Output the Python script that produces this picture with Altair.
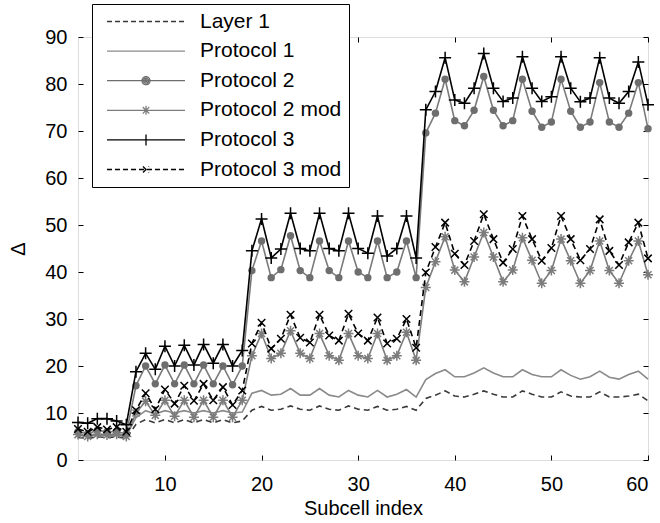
import altair as alt
import pandas as pd

x_index = list(range(1, 61))
series_names = ["Layer 1", "Protocol 1", "Protocol 2", "Protocol 2 mod", "Protocol 3", "Protocol 3 mod"]

layer1 = [4.8, 4.6, 4.9, 4.8, 4.9, 4.6,
          7.6, 8.6, 7.9, 8.6, 7.9, 8.6, 7.9, 8.6, 7.9, 8.6, 7.9, 8.3,
          10.6, 11.4, 10.6, 10.8, 11.5, 10.8, 10.6, 11.5, 10.8, 10.6, 11.5, 10.8, 10.6, 11.4, 10.6, 10.8, 11.4, 10.6,
          13.1, 13.8, 14.7, 13.6, 13.4, 14.0, 14.7, 14.0, 13.4, 13.4, 14.7, 14.0, 13.4, 13.4, 14.5, 13.6,
          13.4, 13.4, 14.5, 13.4, 13.4, 13.6, 14.0, 12.6]
protocol1 = [5.2, 5.2, 5.3, 5.2, 5.3, 5.2,
             9.0, 10.5, 9.8, 10.5, 10.0, 10.5, 10.0, 10.5, 10.0, 10.5, 10.0, 10.2,
             14.2, 14.8, 13.8, 14.0, 15.2, 13.8, 13.8, 15.2, 13.8, 13.4, 14.8, 13.8, 13.4, 14.8, 13.4, 14.0, 15.0, 13.4,
             17.1, 18.4, 19.2, 17.7, 17.7, 18.5, 19.6, 18.5, 17.7, 17.7, 19.2, 18.2, 17.7, 17.7, 19.2, 18.0,
             17.2, 17.7, 18.9, 17.6, 17.2, 18.2, 18.9, 17.2]
protocol2 = [6.0, 5.6, 6.3, 6.0, 6.0, 5.6,
             15.8, 20.0, 16.2, 20.2, 16.2, 20.2, 16.2, 20.2, 16.2, 20.0, 16.0, 20.0,
             40.3, 46.6, 38.8, 40.5, 47.7, 40.3, 38.8, 46.6, 40.3, 38.8, 46.6, 40.0, 38.8, 46.6, 38.8, 40.0, 46.6, 38.8,
             69.6, 73.8, 81.0, 72.2, 71.1, 74.4, 81.6, 74.4, 71.1, 72.2, 81.0, 74.2, 70.8, 71.9, 81.0, 74.2,
             70.8, 71.9, 80.3, 71.9, 70.8, 73.8, 80.3, 70.5]
protocol2_mod = [5.4, 5.0, 5.5, 5.3, 5.5, 5.0,
                 10.0, 12.5, 9.5, 12.7, 9.3, 12.7, 9.1, 12.7, 9.1, 12.7, 9.1, 12.7,
                 22.2, 26.9, 21.6, 22.7, 27.5, 22.7, 21.6, 26.9, 22.2, 21.2, 26.9, 22.2, 21.6, 26.9, 21.2, 22.2, 27.2, 21.2,
                 36.7, 42.2, 47.5, 40.4, 37.9, 43.2, 48.4, 43.2, 37.9, 40.4, 47.3, 42.5, 37.6, 40.3, 47.0, 42.4,
                 37.6, 40.3, 46.6, 40.3, 37.6, 42.4, 46.6, 39.4]
protocol3 = [8.0, 7.8, 8.8, 8.8, 8.3, 7.5,
             18.8, 22.7, 19.3, 24.2, 20.0, 24.4, 20.2, 24.6, 20.6, 24.6, 20.0, 23.3,
             44.5, 51.3, 43.0, 44.9, 52.5, 45.0, 44.5, 52.5, 45.0, 44.5, 52.5, 45.0, 44.0, 51.9, 43.4, 45.0, 51.9, 43.0,
             74.5, 78.4, 85.6, 76.6, 75.9, 79.1, 86.5, 79.1, 76.3, 77.0, 85.8, 79.1, 76.3, 77.3, 85.8, 79.1,
             76.2, 77.0, 85.6, 77.0, 75.9, 78.4, 84.7, 75.6]
protocol3_mod = [6.6, 6.0, 7.0, 6.5, 7.0, 6.0,
                 10.6, 14.2, 10.8, 15.0, 12.0, 15.8, 12.6, 16.2, 12.7, 15.5, 11.7, 14.8,
                 24.8, 29.2, 23.7, 25.8, 30.9, 26.0, 25.0, 30.9, 26.5, 25.4, 31.1, 26.9, 25.4, 30.3, 24.8, 25.8, 30.0, 23.9,
                 39.9, 45.3, 50.5, 43.9, 41.5, 46.6, 52.3, 47.0, 42.0, 44.9, 51.9, 47.0, 42.4, 45.1, 51.9, 47.0,
                 42.5, 44.9, 51.2, 44.5, 41.5, 46.3, 50.5, 42.9]

x_ticks = [10, 20, 30, 40, 50, 60]
y_ticks = [0, 10, 20, 30, 40, 50, 60, 70, 80, 90]

all_series = [layer1, protocol1, protocol2, protocol2_mod, protocol3, protocol3_mod]
rows = []
for name, vals in zip(series_names, all_series):
    for xi, v in zip(x_index, vals):
        rows.append({"x": xi, "value": v, "series": name})
df = pd.DataFrame(rows)

FONT = "Liberation Sans"
FS = 20
LFS = 21

# marker paths (unit coords, scaled by sqrt(size)/2)
PLUS = "M-1.2,0L1.2,0M0,-1.2L0,1.2"
ASTER = "M-1,0L1,0M0,-1L0,1M-0.7,-0.7L0.7,0.7M-0.7,0.7L0.7,-0.7"
XS = "M-0.75,-0.75L0.75,0.75M-0.75,0.75L0.75,-0.75"

line_colors = ["#3a3a3a", "#8a8a8a", "#7a7a7a", "#7c7c7c", "#000000", "#000000"]
line_dashes = [[6, 4], None, None, None, None, [6, 4]]
markers = [None, None, "circle", ASTER, PLUS, XS]

xscale = alt.Scale(domain=[1, 60], nice=False, zero=False)
yscale = alt.Scale(domain=[0, 90], nice=False, zero=False)

x_axis = alt.Axis(values=x_ticks, title="Subcell index", offset=-5, tickSize=5, domain=False, grid=False,
                  labelFontSize=FS, titleFontSize=FS, titleFontWeight="normal", labelPadding=14,
                  titlePadding=4, tickColor="black", labelColor="black", titleColor="black", labelFont=FONT,
                  titleFont=FONT)
y_axis = alt.Axis(values=y_ticks, title="Δ", offset=-5, tickSize=5, domain=False, grid=False,
                  labelFontSize=FS, titleFontSize=FS, titleFontWeight="normal", labelPadding=11,
                  titlePadding=16, tickColor="black", labelColor="black", titleColor="black", labelFont=FONT,
                  titleFont=FONT)
x_axis_top = alt.Axis(orient="top", values=x_ticks, title=None, offset=-5, tickSize=5, domain=False,
                      grid=False, labels=False, tickColor="black")
y_axis_right = alt.Axis(orient="right", values=y_ticks, title=None, offset=-5, tickSize=5, domain=False,
                        grid=False, labels=False, tickColor="black")

layers = []
first = True
for name, color, dash, marker in zip(series_names, line_colors, line_dashes, markers):
    base = alt.Chart(df).transform_filter(alt.datum.series == name)
    line_kwargs = dict(color=color, strokeWidth=1.6)
    if dash is not None:
        line_kwargs["strokeDash"] = dash
    if first:
        enc = dict(x=alt.X("x:Q", scale=xscale, axis=x_axis), y=alt.Y("value:Q", scale=yscale, axis=y_axis))
        first = False
    else:
        enc = dict(x=alt.X("x:Q", scale=xscale, axis=None), y=alt.Y("value:Q", scale=yscale, axis=None))
    layers.append(base.mark_line(**line_kwargs).encode(**enc))
    if marker == "circle":
        layers.append(base.mark_point(shape="circle", size=55, filled=True, color="#6e6e6e", opacity=1).encode(
            x=alt.X("x:Q", scale=xscale, axis=None), y=alt.Y("value:Q", scale=yscale, axis=None)))
    elif marker is not None:
        layers.append(base.mark_point(shape=marker, size=100, filled=False, color=color, strokeWidth=1.5,
                                      opacity=1).encode(
            x=alt.X("x:Q", scale=xscale, axis=None), y=alt.Y("value:Q", scale=yscale, axis=None)))

# mirrored inner ticks on top and right
layers.append(alt.Chart(df).transform_filter("false").mark_point(opacity=0).encode(
    x=alt.X("x:Q", scale=xscale, axis=x_axis_top), y=alt.Y("value:Q", scale=yscale, axis=y_axis_right)))

# legend layer
LINE = "M-7.8,0L7.8,0"
RINGS = ("M0.8,0A0.8,0.8,0,1,1,-0.8,0A0.8,0.8,0,1,1,0.8,0"
         "M0.5,0A0.5,0.5,0,1,1,-0.5,0A0.5,0.5,0,1,1,0.5,0"
         "M0.2,0A0.2,0.2,0,1,1,-0.2,0A0.2,0.2,0,1,1,0.2,0")
legend_shapes = [LINE, LINE, LINE + RINGS,
                 LINE + "M-0.9,0L0.9,0M0,-0.9L0,0.9M-0.65,-0.65L0.65,0.65M-0.65,0.65L0.65,-0.65",
                 LINE + "M0,-1.1L0,1.1",
                 LINE + "M-0.6,-0.6L0.6,0.6M-0.6,0.6L0.6,-0.6"]
legend_dashes = [[5, 3], [1, 0], [1, 0], [1, 0], [1, 0], [5, 3]]
legend_colors = ["#3a3a3a", "#8a8a8a", "#6e6e6e", "#7c7c7c", "#000000", "#000000"]

leg = alt.Legend(title=None, orient="none", legendX=14, legendY=-33, padding=7, strokeColor="black",
                 fillColor="white", symbolOffset=36.5, labelOffset=43.5, rowPadding=7.6, labelFontSize=LFS,
                 labelFont=FONT, labelColor="black", symbolStrokeWidth=1.3, labelLimit=400, symbolSize=100,
                 cornerRadius=0)

layers.append(alt.Chart(df).transform_filter("false").mark_point(size=100, filled=False, strokeWidth=1.3,
                                                                  opacity=1).encode(
    color=alt.Color("series:N", scale=alt.Scale(domain=series_names, range=legend_colors), legend=leg),
    shape=alt.Shape("series:N", scale=alt.Scale(domain=series_names, range=legend_shapes), legend=leg),
    strokeDash=alt.StrokeDash("series:N", scale=alt.Scale(domain=series_names, range=legend_dashes), legend=leg),
))

chart = alt.layer(*layers).resolve_axis(x="independent", y="independent").properties(
    width=570, height=423,
    autosize=alt.AutoSizeParams(type="none"),
    padding={"left": 78, "top": 37, "right": 12, "bottom": 63},
).configure_view(stroke="black", strokeWidth=1).configure(font=FONT, background="white")

chart.save("out.html", embed_options={"renderer": "svg", "actions": False})
